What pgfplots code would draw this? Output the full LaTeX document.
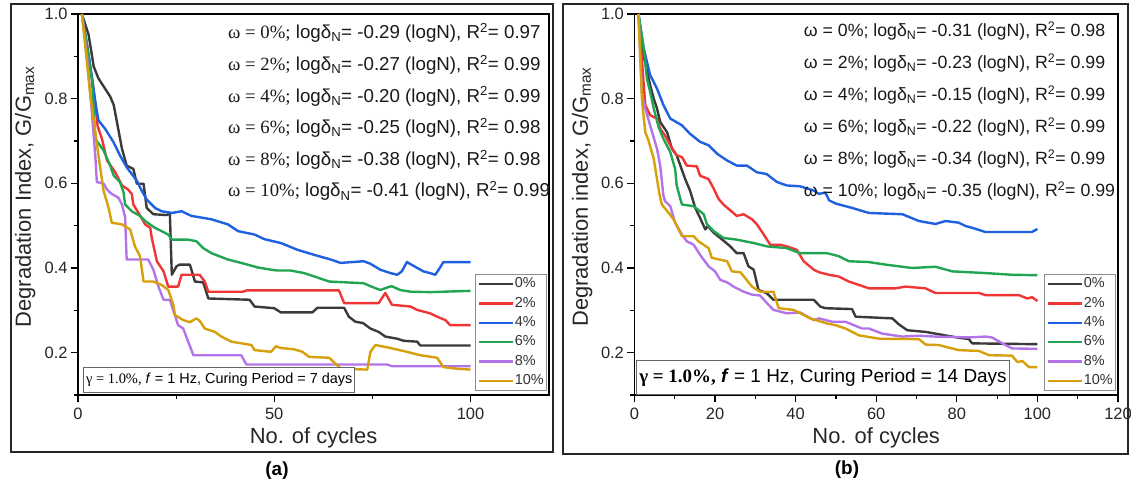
\documentclass[border=0pt]{standalone}
\usepackage{pgfplots}
\pgfplotsset{compat=1.18}
\usepackage{fontspec}
\setmainfont{Liberation Sans}
\newfontfamily\tnr{Liberation Serif}
\definecolor{cK}{HTML}{3A3A3A}
\definecolor{cR}{HTML}{F03535}
\definecolor{cB}{HTML}{1F60E0}
\definecolor{cG}{HTML}{22A552}
\definecolor{cP}{HTML}{B374EA}
\definecolor{cY}{HTML}{D6A00A}
\newcommand{\fs}[1]{\fontsize{#1}{#1}\selectfont}
\tikzset{ann/.style={anchor=west, font=\fs{18.8}, text=black!90, inner sep=0pt}}
\pgfplotsset{
  panel/.style={
    scale only axis, height=381bp, clip=false,
    ymin=0.1, ymax=1.0, xmin=0, xmax=120,
    axis line style={line width=1.3bp, black},
    tick align=outside, xtick pos=bottom, ytick pos=left,
    major tick length=7bp, minor tick length=4bp,
    every tick/.style={line width=1.2bp, black},
    ytick={0.2,0.4,0.6,0.8,1.0}, minor ytick={0.1,0.3,0.5,0.7,0.9},
    /pgf/number format/assume math mode=true,
    tick label style={font=\fs{16.5}, text=black!85},
    yticklabel style={/pgf/number format/fixed, /pgf/number format/fixed zerofill, /pgf/number format/precision=1},
    xticklabel style={/pgf/number format/fixed, yshift=-3bp},
    xlabel={No. of cycles},
    xlabel style={font=\fs{22}, at={(axis description cs:0.5,-0.112)}, anchor=center, text=black!85},
    ylabel style={font=\fs{22}, anchor=center, text=black!85},
    every axis plot/.append style={line width=2.4bp, line join=round},
    legend image code/.code={\draw[##1] (0bp,0bp) -- (34bp,0bp);},
    legend style={at={(1,0)}, anchor=south east, xshift=-2bp, yshift=4bp,
      draw=black!45, line width=1bp, font=\fs{14.5}, text=black!80,
      nodes={inner sep=0.8bp, text height=10.5bp, text depth=3bp},
      row sep=4.3bp, inner sep=2bp},
    legend cell align=left,
  },
}
\begin{document}
\begin{tikzpicture}
\useasboundingbox (0bp,0bp) rectangle (1134bp,486bp);
\draw[line width=1.4bp, black!85] (11bp,34bp) rectangle (553bp,482bp);
\draw[line width=1.4bp, black!85] (563bp,32bp) rectangle (1128bp,482bp);
\node[font=\bfseries\fs{19}] at (277bp,15bp) {(a)};
\node[font=\bfseries\fs{19}] at (847bp,16bp) {(b)};
% ---------------- panel (a)
\begin{axis}[panel, at={(78bp,91bp)}, anchor=south west, width=471bp,
  xtick={0,50,100}, minor xtick={25,75},
  ylabel={Degradation Index, G/G\textsubscript{max}},
  ylabel style={at={(axis description cs:-0.112,0.52)}},
  ]
\addplot[cK] coordinates {(1,1.0)(2.7,0.951)(4.0,0.876)(5.2,0.848)(8.2,0.805)(9.1,0.785)(11.2,0.682)(12.4,0.642)(14.1,0.634)(15.0,0.599)(16.7,0.599)(17.5,0.542)(19.2,0.527)(22.6,0.525)(23.4,0.530)(23.9,0.384)(25.1,0.404)(25.9,0.408)(28.5,0.408)(29.8,0.368)(31.9,0.366)(33.2,0.328)(43.7,0.325)(45.0,0.309)(50.0,0.305)(51.7,0.295)(59.7,0.295)(61.0,0.306)(67.8,0.306)(69.0,0.285)(70.7,0.273)(72.6,0.270)(74.5,0.257)(76.6,0.249)(78.3,0.238)(81.3,0.233)(83.0,0.228)(86.4,0.226)(87.2,0.217)(100,0.217)};
\addlegendentry{0\%}
\addplot[cR] coordinates {(1,1.0)(2.3,0.925)(3.6,0.845)(4.4,0.790)(5.0,0.735)(6.1,0.705)(7.4,0.654)(9.5,0.626)(11.2,0.595)(12.8,0.585)(13.7,0.575)(14.1,0.550)(16.2,0.518)(17.1,0.503)(18.4,0.495)(18.8,0.471)(20.1,0.416)(21.8,0.392)(23.0,0.356)(25.5,0.356)(26.4,0.384)(31.0,0.384)(32.3,0.368)(33.2,0.344)(42.0,0.344)(43.0,0.347)(66.5,0.347)(67.8,0.317)(76.6,0.317)(78.3,0.341)(80.0,0.313)(84.7,0.309)(86.4,0.301)(89.7,0.293)(91.5,0.285)(93.6,0.277)(94.8,0.265)(100,0.265)};
\addlegendentry{2\%}
\addplot[cB] coordinates {(1,1.0)(2.3,0.927)(3.6,0.848)(4.4,0.793)(5.2,0.749)(6.9,0.729)(9.0,0.698)(10.7,0.666)(12.4,0.638)(15.0,0.606)(16.2,0.583)(17.5,0.562)(19.6,0.542)(21.3,0.534)(23.9,0.530)(26.4,0.534)(28.9,0.523)(31.5,0.519)(34.0,0.515)(38.2,0.503)(40.8,0.487)(45.0,0.479)(47.5,0.468)(51.7,0.459)(55.9,0.443)(60.2,0.431)(64.4,0.420)(66.9,0.412)(72.8,0.416)(74.5,0.410)(77.0,0.396)(79.6,0.388)(81.3,0.384)(82.5,0.392)(83.8,0.414)(85.5,0.405)(88.0,0.392)(89.7,0.388)(91.0,0.384)(91.9,0.396)(93.1,0.414)(100,0.414)};
\addlegendentry{4\%}
\addplot[cG] coordinates {(1,1.0)(2.3,0.925)(3.6,0.840)(4.4,0.705)(6.5,0.678)(8.2,0.642)(9.1,0.618)(10.7,0.603)(11.6,0.579)(12.0,0.550)(13.7,0.534)(15.8,0.523)(17.1,0.511)(19.6,0.495)(23.0,0.479)(23.9,0.467)(28.1,0.467)(30.2,0.463)(31.9,0.447)(34.0,0.435)(38.2,0.420)(41.6,0.412)(45.9,0.401)(49.2,0.396)(50.8,0.394)(54.2,0.394)(57.6,0.388)(60.2,0.380)(64.0,0.368)(72.8,0.364)(74.5,0.357)(77.0,0.348)(78.8,0.354)(79.9,0.357)(82.1,0.348)(84.7,0.344)(89.7,0.343)(100,0.346)};
\addlegendentry{6\%}
\addplot[cP] coordinates {(1,1.0)(2.3,0.900)(3.6,0.760)(4.4,0.666)(4.8,0.603)(6.5,0.600)(7.4,0.585)(8.6,0.575)(10.3,0.566)(11.2,0.550)(12.0,0.520)(12.4,0.420)(17.9,0.420)(19.2,0.396)(20.5,0.356)(21.8,0.325)(23.4,0.325)(25.5,0.265)(26.8,0.257)(29.4,0.194)(41.6,0.194)(42.9,0.172)(78.7,0.172)(80.0,0.168)(100,0.168)};
\addlegendentry{8\%}
\addplot[cY] coordinates {(1,1.0)(3.0,0.820)(5.0,0.680)(6.5,0.583)(7.8,0.542)(8.6,0.507)(11.2,0.503)(13.3,0.491)(14.5,0.451)(15.8,0.428)(16.7,0.368)(19.2,0.368)(21.3,0.360)(23.0,0.348)(24.3,0.313)(24.7,0.289)(26.8,0.277)(28.5,0.272)(30.2,0.281)(31.0,0.275)(32.3,0.257)(34.9,0.249)(36.5,0.238)(39.1,0.226)(44.2,0.218)(45.0,0.206)(49.2,0.202)(50.4,0.215)(51.7,0.211)(55.0,0.208)(57.2,0.202)(58.9,0.190)(64.0,0.188)(65.6,0.174)(67.0,0.162)(73.7,0.160)(74.5,0.202)(75.8,0.218)(77.5,0.215)(79.6,0.211)(83.8,0.202)(87.2,0.194)(91.5,0.188)(93.1,0.166)(96.5,0.162)(100,0.160)};
\addlegendentry{10\%}
\node[ann] at (rel axis cs:0.3185,0.950) {{\tnr ω = 0\%;} logδ\textsubscript{N}= -0.29 (logN), R\textsuperscript{2}= 0.97};
\node[ann] at (rel axis cs:0.3185,0.867) {{\tnr ω = 2\%;} logδ\textsubscript{N}= -0.27 (logN), R\textsuperscript{2}= 0.99};
\node[ann] at (rel axis cs:0.3185,0.784) {{\tnr ω = 4\%;} logδ\textsubscript{N}= -0.20 (logN), R\textsuperscript{2}= 0.99};
\node[ann] at (rel axis cs:0.3185,0.701) {{\tnr ω = 6\%;} logδ\textsubscript{N}= -0.25 (logN), R\textsuperscript{2}= 0.98};
\node[ann] at (rel axis cs:0.3185,0.618) {{\tnr ω = 8\%;} logδ\textsubscript{N}= -0.38 (logN), R\textsuperscript{2}= 0.98};
\node[ann] at (rel axis cs:0.3185,0.535) {{\tnr ω = 10\%;} logδ\textsubscript{N}= -0.41 (logN), R\textsuperscript{2}= 0.99};
\node[draw=black!60, line width=1bp, anchor=south west, fill=white, font=\fs{14.5}, inner xsep=2.5bp, inner ysep=5.5bp, text height=10.5bp, text depth=3bp] at (rel axis cs:0.011,0.006) {{\tnr γ = 1.0\%,} \textit{f} = 1 Hz, Curing Period = 7 days};
\end{axis}
% ---------------- panel (b)
\begin{axis}[panel, at={(634.4bp,91bp)}, anchor=south west, width=483.6bp,
  xtick={0,20,40,60,80,100,120}, minor xtick={10,30,50,70,90,110},
  ylabel={Degradation index, G/G\textsubscript{max}},
  ylabel style={at={(axis description cs:-0.108,0.52)}},
  ]
\addplot[cK] coordinates {(1,1.0)(2.3,0.900)(3.9,0.832)(4.8,0.800)(5.6,0.777)(6.4,0.745)(8.1,0.721)(9.3,0.682)(10.5,0.666)(11.4,0.642)(12.6,0.610)(13.8,0.583)(15.1,0.542)(16.3,0.518)(17.6,0.491)(18.2,0.499)(19.7,0.483)(21.3,0.471)(23.8,0.451)(25.4,0.435)(27.1,0.435)(28.3,0.404)(29.6,0.396)(30.8,0.348)(32.9,0.340)(34.5,0.325)(44.5,0.325)(46.1,0.309)(47.4,0.305)(54.0,0.303)(54.9,0.285)(64.0,0.281)(65.6,0.267)(67.7,0.253)(72.3,0.249)(77.0,0.241)(80.0,0.236)(83.0,0.232)(83.8,0.222)(100,0.220)};
\addlegendentry{0\%}
\addplot[cR] coordinates {(1,1.0)(2.7,0.785)(3.9,0.761)(5.6,0.753)(6.4,0.729)(7.6,0.713)(8.9,0.690)(10.5,0.666)(11.8,0.662)(13.0,0.642)(15.5,0.640)(16.3,0.618)(18.4,0.610)(19.7,0.587)(20.9,0.563)(22.1,0.550)(25.4,0.523)(27.1,0.527)(29.2,0.515)(30.4,0.503)(32.1,0.479)(33.7,0.455)(36.2,0.455)(37.8,0.451)(40.3,0.443)(42.0,0.416)(44.5,0.396)(45.8,0.390)(48.3,0.384)(50.7,0.380)(53.2,0.368)(55.7,0.360)(58.2,0.352)(64.8,0.352)(67.3,0.356)(72.2,0.352)(74.7,0.341)(85.5,0.341)(87.1,0.336)(95.4,0.336)(97.5,0.328)(98.7,0.331)(100,0.322)};
\addlegendentry{2\%}
\addplot[cB] coordinates {(1,1.0)(2.3,0.919)(3.9,0.856)(5.6,0.824)(7.2,0.785)(8.9,0.753)(11.8,0.737)(13.8,0.717)(16.3,0.698)(18.4,0.690)(20.5,0.670)(23.0,0.654)(25.4,0.642)(27.9,0.642)(30.4,0.626)(32.8,0.622)(35.4,0.603)(37.8,0.595)(41.1,0.593)(44.5,0.583)(45.8,0.575)(47.4,0.578)(48.3,0.560)(50.0,0.552)(54.0,0.542)(58.2,0.530)(66.5,0.527)(70.6,0.511)(74.7,0.504)(77.2,0.511)(80.5,0.507)(82.2,0.499)(83.8,0.495)(87.1,0.485)(98.6,0.485)(100,0.492)};
\addlegendentry{4\%}
\addplot[cG] coordinates {(1,1.0)(2.3,0.920)(3.1,0.848)(3.9,0.816)(4.8,0.777)(6.0,0.733)(7.2,0.705)(8.9,0.674)(10.1,0.634)(10.5,0.595)(11.4,0.563)(11.8,0.550)(14.7,0.546)(17.2,0.527)(18.0,0.503)(19.7,0.487)(22.1,0.471)(25.4,0.467)(29.6,0.459)(32.9,0.451)(37.8,0.447)(41.1,0.435)(47.8,0.435)(50.7,0.428)(53.2,0.416)(58.2,0.414)(62.3,0.408)(68.9,0.400)(74.7,0.403)(78.9,0.392)(87.1,0.388)(93.7,0.384)(100,0.383)};
\addlegendentry{6\%}
\addplot[cP] coordinates {(1,1.0)(1.9,0.808)(2.7,0.777)(3.9,0.737)(5.6,0.682)(6.4,0.642)(7.2,0.571)(7.6,0.558)(8.9,0.546)(10.1,0.507)(11.8,0.479)(13.0,0.463)(14.7,0.455)(16.3,0.431)(18.4,0.404)(20.0,0.392)(21.3,0.372)(23.0,0.366)(24.6,0.356)(27.1,0.344)(29.2,0.337)(31.2,0.335)(32.9,0.317)(34.5,0.301)(37.8,0.293)(41.1,0.295)(44.5,0.277)(45.8,0.281)(49.1,0.273)(52.4,0.273)(56.5,0.257)(58.2,0.257)(61.5,0.245)(66.5,0.238)(70.6,0.240)(74.7,0.238)(83.0,0.236)(87.1,0.238)(88.7,0.236)(92.1,0.218)(93.7,0.210)(100,0.209)};
\addlegendentry{8\%}
\addplot[cY] coordinates {(1,1.0)(1.9,0.793)(2.7,0.721)(3.5,0.701)(4.8,0.658)(6.2,0.575)(6.8,0.550)(8.5,0.530)(9.7,0.515)(11.0,0.491)(11.8,0.475)(14.7,0.475)(15.9,0.463)(18.4,0.447)(19.2,0.424)(23.0,0.416)(24.2,0.392)(26.3,0.390)(27.5,0.376)(29.2,0.356)(31.2,0.344)(34.5,0.344)(35.4,0.317)(35.8,0.305)(39.5,0.301)(43.6,0.281)(47.8,0.269)(49.9,0.265)(52.4,0.257)(55.7,0.241)(60.7,0.233)(70.6,0.232)(72.3,0.219)(75.5,0.218)(80.5,0.206)(85.5,0.204)(88.0,0.194)(93.7,0.193)(95.0,0.178)(96.3,0.180)(97.9,0.166)(100,0.166)};
\addlegendentry{10\%}
\node[ann, font=\fs{17.8}] at (rel axis cs:0.350,0.955) {ω = 0\%; logδ\textsubscript{N}= -0.31 (logN), R\textsuperscript{2}= 0.98};
\node[ann, font=\fs{17.8}] at (rel axis cs:0.350,0.871) {ω = 2\%; logδ\textsubscript{N}= -0.23 (logN), R\textsuperscript{2}= 0.99};
\node[ann, font=\fs{17.8}] at (rel axis cs:0.350,0.787) {ω = 4\%; logδ\textsubscript{N}= -0.15 (logN), R\textsuperscript{2}= 0.99};
\node[ann, font=\fs{17.8}] at (rel axis cs:0.350,0.703) {ω = 6\%; logδ\textsubscript{N}= -0.22 (logN), R\textsuperscript{2}= 0.99};
\node[ann, font=\fs{17.8}] at (rel axis cs:0.350,0.619) {ω = 8\%; logδ\textsubscript{N}= -0.34 (logN), R\textsuperscript{2}= 0.99};
\node[ann, font=\fs{17.8}] at (rel axis cs:0.350,0.535) {ω = 10\%; logδ\textsubscript{N}= -0.35 (logN), R\textsuperscript{2}= 0.99};
\node[draw=black!60, line width=1bp, anchor=south west, fill=white, font=\fs{19}, inner xsep=3bp, inner ysep=8bp, text height=14bp, text depth=4bp] at (rel axis cs:0.003,0.0) {{\tnr\bfseries γ = 1.0\%,} \textbf{\textit{f}} = 1 Hz, Curing Period = 14 Days};
\end{axis}
\end{tikzpicture}
\end{document}
